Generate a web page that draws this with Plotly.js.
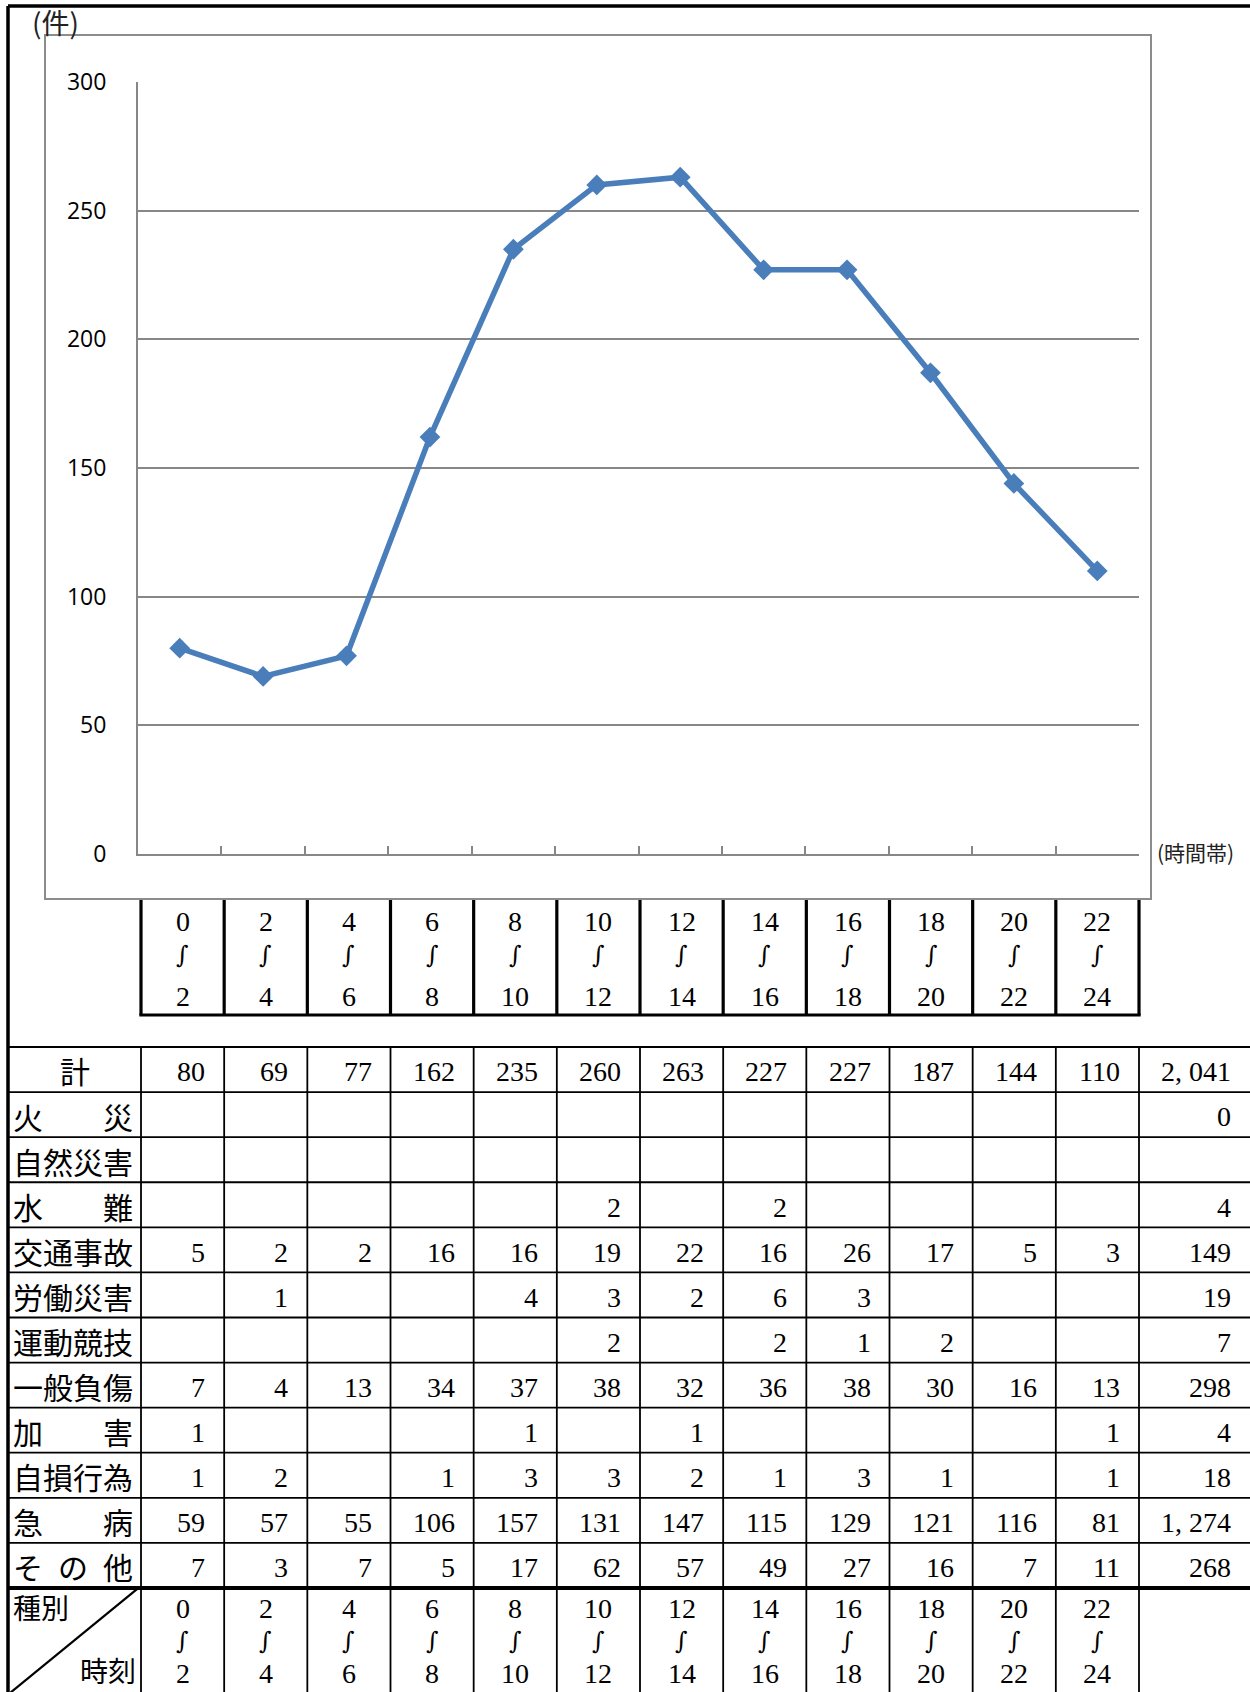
<!DOCTYPE html>
<html><head><meta charset="utf-8">
<script src="https://cdn.plot.ly/plotly-3.0.1.min.js"></script>
<style>html,body{margin:0;padding:0;background:#fff}#chart{width:1250px;height:1692px}</style>
</head><body><div id="chart"></div>
<script>
// ---------- data ----------
const bandStart = ["0","2","4","6","8","10","12","14","16","18","20","22"];
const bandEnd   = ["2","4","6","8","10","12","14","16","18","20","22","24"];
const timeBands = ["0～2","2～4","4～6","6～8","8～10","10～12","12～14","14～16","16～18","18～20","20～22","22～24"];
const totalByBand = [80,69,77,162,235,260,263,227,227,187,144,110];

const rowLabels = ["計","火　　災","自然災害","水　　難","交通事故","労働災害","運動競技","一般負傷","加　　害","自損行為","急　　病","そ\u2002の\u2002他"];
const fireRow     = [null,null,null,null,null,null,null,null,null,null,null,null];
const naturalRow  = [null,null,null,null,null,null,null,null,null,null,null,null];
const waterRow    = [null,null,null,null,null,2,null,2,null,null,null,null];
const trafficRow  = [5,2,2,16,16,19,22,16,26,17,5,3];
const workRow     = [null,1,null,null,4,3,2,6,3,null,null,null];
const sportsRow   = [null,null,null,null,null,2,null,2,1,2,null,null];
const injuryRow   = [7,4,13,34,37,38,32,36,38,30,16,13];
const assaultRow  = [1,null,null,null,1,null,1,null,null,null,null,1];
const selfRow     = [1,2,null,1,3,3,2,1,3,1,null,1];
const illnessRow  = [59,57,55,106,157,131,147,115,129,121,116,81];
const otherRow    = [7,3,7,5,17,62,57,49,27,16,7,11];
const rowTotals   = [2041,0,null,4,149,19,7,298,4,18,1274,268];

const tableRows = [totalByBand,fireRow,naturalRow,waterRow,trafficRow,workRow,sportsRow,injuryRow,assaultRow,selfRow,illnessRow,otherRow];

// ---------- layout helpers ----------
const W = 1250, H = 1692;
const COLW = 998/12;           // table column width (px)
const ROWH = 45.08;            // table row height (px)
const TX0 = 141, TY0 = 1047;   // table origin (px)
const ux = px => (px - TX0)/COLW;
const uy = py => (py - TY0)/ROWH;
const fmt = n => n === null ? "" : (n >= 1000 ? Math.floor(n/1000) + ", " + String(n%1000).padStart(3,"0") : String(n));

const serif = {family:"'Liberation Serif', 'Times New Roman', 'DejaVu Serif', serif", size:28, color:"#000"};
const waveFont = {family:"'DejaVu Serif', 'Liberation Serif', serif", size:24, color:"#000"};
const jp = {family:"'Noto Sans CJK JP', sans-serif", size:30, color:"#000"};
const jpSmall = {family:"'Noto Sans CJK JP', sans-serif", size:28, color:"#000"};
const wave = "∫";

const shapes = [];
const annotations = [];
const K = "#000";

// outer frame (paper)
shapes.push({type:"line", xref:"paper", yref:"paper", x0:8/W, x1:8/W, y0:0, y1:1-6/H, line:{color:K, width:3.5}});
shapes.push({type:"line", xref:"paper", yref:"paper", x0:8/W, x1:1, y0:1-6/H, y1:1-6/H, line:{color:K, width:3.5}});
// chart box
shapes.push({type:"rect", xref:"paper", yref:"paper", x0:45/W, x1:1151/W, y0:1-899/H, y1:1-35/H, line:{color:"#8c8c8c", width:2}, layer:"below"});

// category boxes below chart
const hbTop = uy(900), hbBot = uy(1015);
for (let k=0;k<=12;k++) shapes.push({type:"line", xref:"x2", yref:"y2", x0:k, x1:k, y0:hbTop, y1:hbBot, line:{color:K, width:3.2}});
shapes.push({type:"line", xref:"x2", yref:"y2", x0:-0.02, x1:12.02, y0:hbBot, y1:hbBot, line:{color:K, width:3.2}});
bandStart.forEach((s,i)=>{
  annotations.push({xref:"x2", yref:"y2", x:i+0.5, y:uy(921), text:s, showarrow:false, font:serif, xanchor:"center", yanchor:"middle"});
  annotations.push({xref:"x2", yref:"y2", x:i+0.5, y:uy(955), text:wave, showarrow:false, font:waveFont, xanchor:"center", yanchor:"middle"});
  annotations.push({xref:"x2", yref:"y2", x:i+0.5, y:uy(996), text:bandEnd[i], showarrow:false, font:serif, xanchor:"center", yanchor:"middle"});
});

// table grid
const xLeft = ux(8), xRight = ux(W+5), yBottom = uy(H+5);
for (let r=0;r<=12;r++) shapes.push({type:"line", xref:"x2", yref:"y2", x0:xLeft, x1:xRight, y0:r, y1:r, line:{color:K, width: r===12 ? 4 : 1.8}});
for (let k=0;k<=12;k++) shapes.push({type:"line", xref:"x2", yref:"y2", x0:k, x1:k, y0:0, y1:yBottom, line:{color:K, width:1.8}});
shapes.push({type:"line", xref:"x2", yref:"y2", x0:-0.03, x1:ux(10), y0:12, y1:uy(1693), line:{color:K, width:2.2}});

// row labels + values
const PAD = 17/COLW;
const totRight = ux(1233);
rowLabels.forEach((lab,r)=>{
  if (r===0) annotations.push({xref:"x2", yref:"y2", x:ux(75), y:r+0.52, text:lab, showarrow:false, font:jp, xanchor:"center", yanchor:"middle"});
  else annotations.push({xref:"x2", yref:"y2", x:ux(11), y:r+0.52, text:lab, showarrow:false, font:jp, xanchor:"left", yanchor:"middle"});
  tableRows[r].forEach((v,k)=>{
    if (v===null) return;
    annotations.push({xref:"x2", yref:"y2", x:k+1-PAD, y:r+0.55, text:fmt(v), showarrow:false, font:serif, xanchor:"right", yanchor:"middle"});
  });
  if (rowTotals[r]!==null) annotations.push({xref:"x2", yref:"y2", x:totRight, y:r+0.55, text:fmt(rowTotals[r]), showarrow:false, font:serif, xanchor:"right", yanchor:"middle"});
});
// header row at the bottom
annotations.push({xref:"x2", yref:"y2", x:ux(11), y:uy(1607), text:"種別", showarrow:false, font:jpSmall, xanchor:"left", yanchor:"middle"});
annotations.push({xref:"x2", yref:"y2", x:ux(137), y:uy(1670), text:"時刻", showarrow:false, font:jpSmall, xanchor:"right", yanchor:"middle", borderpad:0});
bandStart.forEach((s,i)=>{
  annotations.push({xref:"x2", yref:"y2", x:i+0.5, y:uy(1608), text:s, showarrow:false, font:serif, xanchor:"center", yanchor:"middle"});
  annotations.push({xref:"x2", yref:"y2", x:i+0.5, y:uy(1641), text:wave, showarrow:false, font:waveFont, xanchor:"center", yanchor:"middle"});
  annotations.push({xref:"x2", yref:"y2", x:i+0.5, y:uy(1673), text:bandEnd[i], showarrow:false, font:serif, xanchor:"center", yanchor:"middle", borderpad:0});
});

// chart axis unit labels
annotations.push({xref:"paper", yref:"paper", x:30/W, y:1-22/H, text:"(件)", showarrow:false, font:{family:"'Noto Sans CJK JP', sans-serif", size:28, color:"#222"}, xanchor:"left", yanchor:"middle"});
annotations.push({xref:"paper", yref:"paper", x:1155/W, y:1-852/H, text:"(時間帯)", showarrow:false, font:{family:"'Noto Sans CJK JP', sans-serif", size:21, color:"#222"}, xanchor:"left", yanchor:"middle"});

const trace = {
  type:"scatter", mode:"lines+markers", x:timeBands, y:totalByBand, xaxis:"x", yaxis:"y",
  line:{color:"#4a7ebb", width:5.5}, marker:{symbol:"diamond", size:16, color:"#4a7ebb"},
  cliponaxis:false, hoverinfo:"skip"
};

const layout = {
  width:W, height:H, margin:{l:0,r:0,t:0,b:0}, paper_bgcolor:"#fff", plot_bgcolor:"rgba(0,0,0,0)",
  showlegend:false,
  xaxis:{domain:[138/W, 1139/W], anchor:"y", type:"category", range:[-0.5,11.5], showline:true, linecolor:"#878787", linewidth:2,
         ticks:"inside", tickson:"boundaries", ticklen:8, tickwidth:2, tickcolor:"#878787", showticklabels:false, showgrid:false, zeroline:false, fixedrange:true},
  yaxis:{domain:[1-854/H, 1-82/H], anchor:"x", range:[0,300], tick0:0, dtick:50, showgrid:true, gridcolor:"#878787", gridwidth:2,
         showline:true, linecolor:"#878787", linewidth:2, zeroline:false, ticks:"", ticklabelstandoff:25,
         tickfont:{family:"'Open Sans', sans-serif", size:23, color:"#000"}, fixedrange:true},
  xaxis2:{domain:[0,1], anchor:"y2", range:[ux(0), ux(W)], visible:false, fixedrange:true},
  yaxis2:{domain:[0,1], anchor:"x2", range:[uy(H), uy(0)], visible:false, fixedrange:true},
  shapes:shapes, annotations:annotations
};

Plotly.newPlot("chart", [trace], layout, {staticPlot:true, displayModeBar:false});
</script>
</body></html>
